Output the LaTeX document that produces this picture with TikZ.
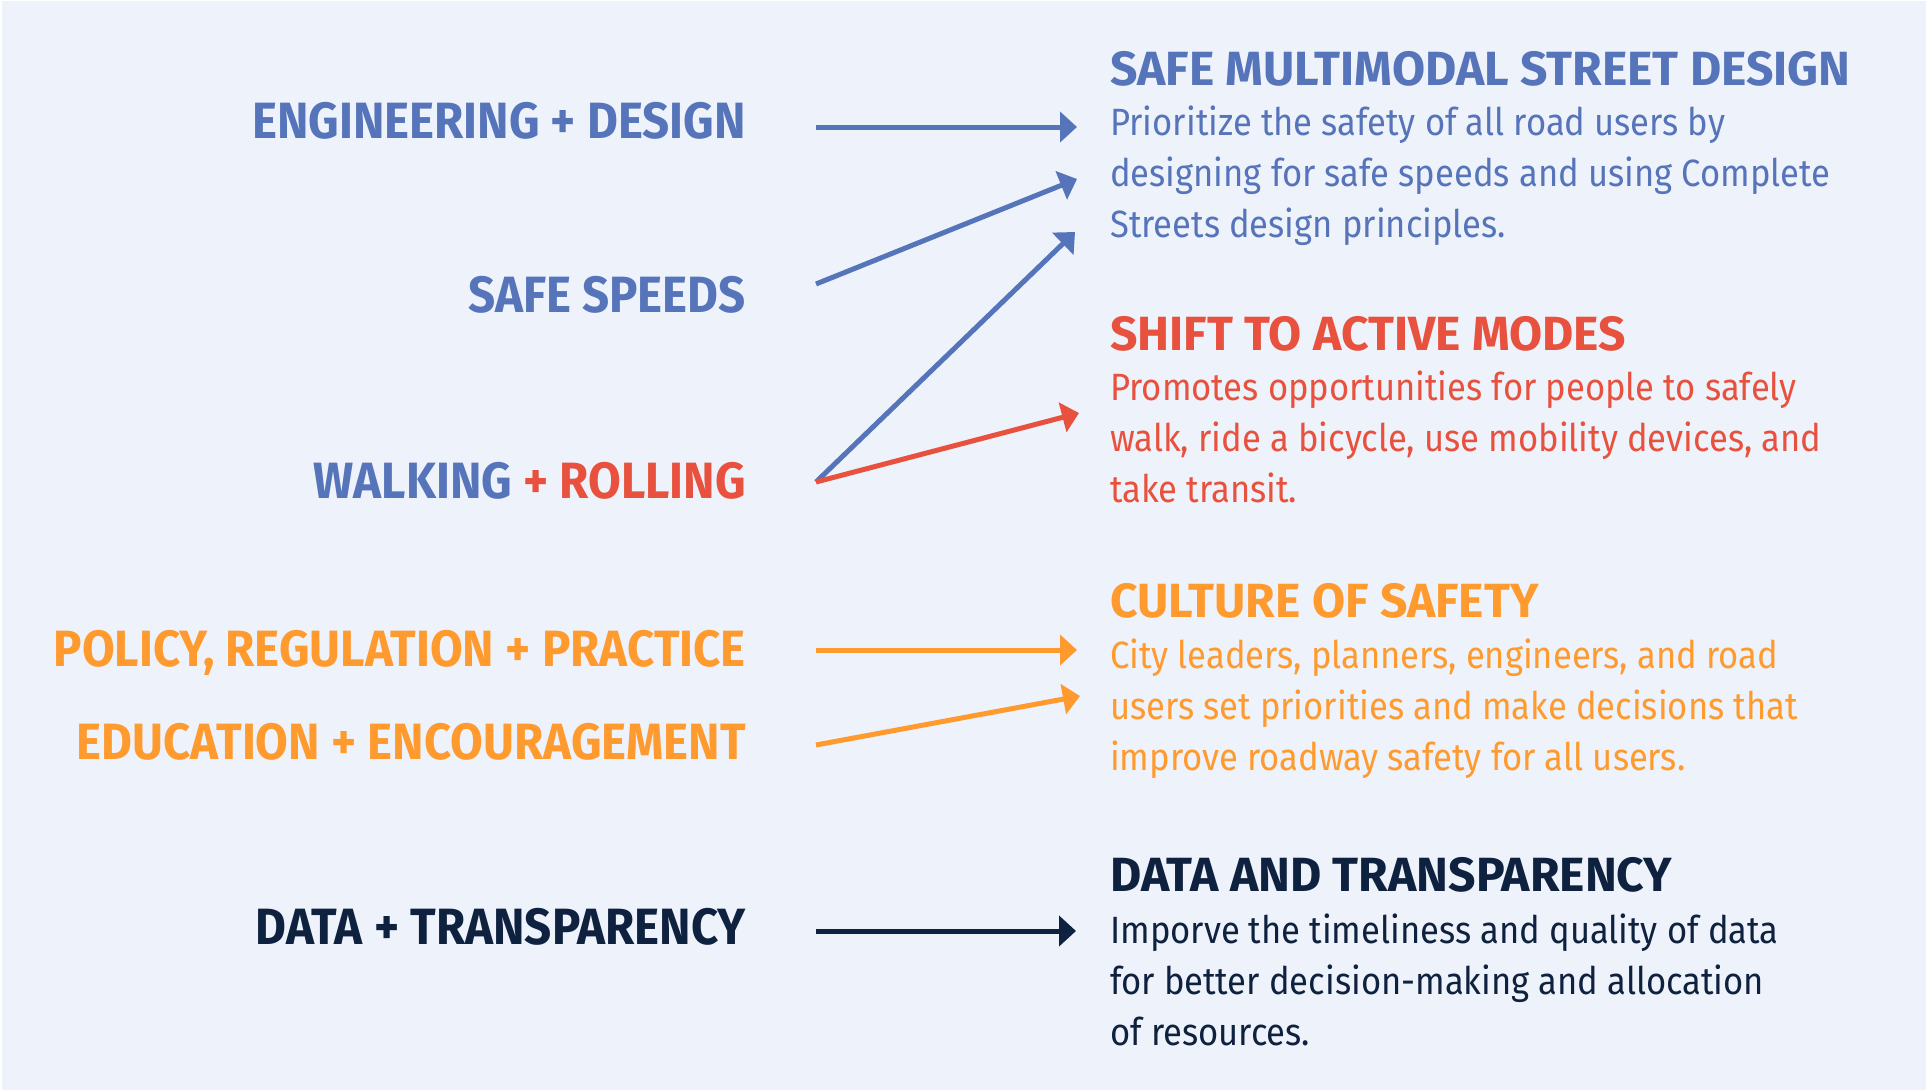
\documentclass[tikz,border=0pt]{standalone}
\usepackage{fontspec}
\usetikzlibrary{arrows.meta}
\newfontfamily\labfont{Fira Sans}[FakeStretch=0.93]
\newfontfamily\ttlfont{Fira Sans}[FakeStretch=1.0]
\newfontfamily\bodyfont{Fira Sans}[FakeStretch=0.91]
\definecolor{cblue}{HTML}{5674BA}
\definecolor{cred}{HTML}{E8513E}
\definecolor{corange}{HTML}{FF9A2E}
\definecolor{cnavy}{HTML}{0E213E}
\definecolor{cbg}{HTML}{EEF2FA}
\begin{document}
\begin{tikzpicture}[x=1pt,y=-1pt,
  lab/.style={anchor=base east,inner sep=0pt,font=\labfont\bfseries\fontsize{51}{51}\selectfont},
  ttl/.style={anchor=base west,inner sep=0pt,font=\ttlfont\bfseries\fontsize{48}{48}\selectfont},
  body/.style={anchor=base west,inner sep=0pt,align=left,font=\bodyfont\fontsize{38}{51}\selectfont},
  arr/.style={line width=5pt,-{Triangle[length=17pt,width=30pt]}}]
\fill[white] (0,0) rectangle (1928,1090);
\fill[cbg] (2,1) rectangle (1926,1090);
\useasboundingbox (0,0) rectangle (1928,1090);
% left labels
\node[lab,text=cblue] (eng) at (746,138) {ENGINEERING + DESIGN};
\node[lab,text=cblue] (spd) at (746,312) {SAFE SPEEDS};
\node[lab] (walk) at (746,498) {\textcolor{cblue}{WALKING} \textcolor{cred}{+ ROLLING}};
\node[lab,text=corange] (pol) at (746,666) {POLICY, REGULATION + PRACTICE};
\node[lab,text=corange] (edu) at (746,759) {EDUCATION + ENCOURAGEMENT};
\node[lab,text=cnavy] (dat) at (746,944) {DATA + TRANSPARENCY};
% right titles and texts (body nodes are placed at the baseline of their last line)
\node[ttl,text=cblue] (t1) at (1110,85) {SAFE MULTIMODAL STREET DESIGN};
\node[body,text=cblue] (b1) at (1110,237) {Prioritize the safety of all road users by\\designing for safe speeds and using Complete\\Streets design principles.};
\node[ttl,text=cred] (t2) at (1110,350) {SHIFT TO ACTIVE MODES};
\node[body,text=cred] (b2) at (1110,502) {Promotes opportunities for people to safely\\walk, ride a bicycle, use mobility devices, and\\take transit.};
\node[ttl,text=corange] (t3) at (1110,617) {CULTURE OF SAFETY};
\node[body,text=corange] (b3) at (1110,770) {City leaders, planners, engineers, and road\\users set priorities and make decisions that\\improve roadway safety for all users.};
\node[ttl,text=cnavy] (t4) at (1110,891) {DATA AND TRANSPARENCY};
\node[body,text=cnavy] (b4) at (1110,1045) {Imporve the timeliness and quality of data\\for better decision-making and allocation\\of resources.};
% connector ends
\coordinate (s1) at (816,127);
\coordinate (e1) at (1077,127);
\coordinate (s2) at (816,284);
\coordinate (e2) at (1077,179);
\coordinate (s3) at (816,482);
\coordinate (e3) at (1075,232);
\coordinate (e4) at (1079,413);
\coordinate (s5) at (816,650);
\coordinate (e5) at (1077,650);
\coordinate (s6) at (816,745);
\coordinate (e6) at (1080,696);
\coordinate (s7) at (816,931);
\coordinate (e7) at (1076,931);
\draw[arr,cblue] (s1) -- (e1);
\draw[arr,cblue] (s2) -- (e2);
\draw[arr,cblue] (s3) -- (e3);
\draw[arr,cred] (s3) -- (e4);
\draw[arr,corange] (s5) -- (e5);
\draw[arr,corange] (s6) -- (e6);
\draw[arr,cnavy] (s7) -- (e7);
\end{tikzpicture}
\end{document}
